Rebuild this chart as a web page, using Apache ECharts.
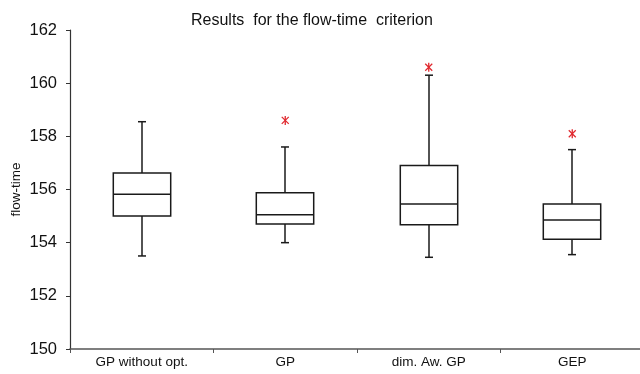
<!DOCTYPE html>
<html>
<head>
<meta charset="utf-8">
<script src="https://cdn.jsdelivr.net/npm/echarts@6/dist/echarts.min.js"></script>
<style>html,body{margin:0;padding:0;background:#fff}#c{width:640px;height:374px}</style>
</head>
<body>
<div id="c"></div>
<script>
const categories = ['GP without opt.', 'GP', 'dim. Aw. GP', 'GEP'];
const mins    = [153.5, 154.0, 153.45, 153.55];
const q1s     = [155.0, 154.7, 154.67, 154.13];
const medians = [155.82, 155.05, 155.45, 154.85];
const q3s     = [156.62, 155.88, 156.9, 155.45];
const maxs    = [158.55, 157.6, 160.3, 157.5];
const outliers = [[1, 158.6], [2, 160.6], [3, 158.1]];
const yTicks = [150, 152, 154, 156, 158, 160, 162];

const boxData = categories.map((c, i) => [i, mins[i], q1s[i], medians[i], q3s[i], maxs[i]]);
const FONT = 'Liberation Sans, Arial, sans-serif';
const lineStyle = {stroke: '#1a1a1a', lineWidth: 1.5, fill: null};

function renderBox(params, api) {
  const i = api.value(0);
  const pMin = api.coord([i, api.value(1)]);
  const pQ1 = api.coord([i, api.value(2)]);
  const pMed = api.coord([i, api.value(3)]);
  const pQ3 = api.coord([i, api.value(4)]);
  const pMax = api.coord([i, api.value(5)]);
  const bw = api.size([1, 0])[0] * 0.4;
  const cx = Math.round(pMed[0]);
  const hx = bw / 2, cap = 4;
  return {
    type: 'group',
    children: [
      {type: 'rect', shape: {x: cx - hx, y: pQ3[1], width: bw, height: pQ1[1] - pQ3[1]}, style: Object.assign({}, lineStyle, {fill: '#fff'})},
      {type: 'line', shape: {x1: cx - hx, y1: pMed[1], x2: cx + hx, y2: pMed[1]}, style: lineStyle},
      {type: 'line', shape: {x1: cx, y1: pQ3[1], x2: cx, y2: pMax[1]}, style: lineStyle},
      {type: 'line', shape: {x1: cx, y1: pQ1[1], x2: cx, y2: pMin[1]}, style: lineStyle},
      {type: 'line', shape: {x1: cx - cap, y1: pMax[1], x2: cx + cap, y2: pMax[1]}, style: lineStyle},
      {type: 'line', shape: {x1: cx - cap, y1: pMin[1], x2: cx + cap, y2: pMin[1]}, style: lineStyle}
    ]
  };
}

function renderStar(params, api) {
  const p = api.coord([api.value(0), api.value(1)]);
  const r = 3.5;
  const st = {stroke: '#e0282e', lineWidth: 1.3};
  return {
    type: 'group',
    children: [
      {type: 'line', shape: {x1: p[0] - r, y1: p[1] - r, x2: p[0] + r, y2: p[1] + r}, style: st},
      {type: 'line', shape: {x1: p[0] - r, y1: p[1] + r, x2: p[0] + r, y2: p[1] - r}, style: st},
      {type: 'line', shape: {x1: p[0], y1: p[1] - r - 1, x2: p[0], y2: p[1] + r + 1}, style: st}
    ]
  };
}

const chart = echarts.init(document.getElementById('c'), null, {renderer: 'canvas'});
chart.setOption({
  animation: false,
  backgroundColor: '#fff',
  title: {
    text: 'Results  for the flow-time  criterion',
    left: 186, top: 8,
    textStyle: {fontFamily: FONT, fontSize: 16, fontWeight: 'normal', color: '#111'}
  },
  grid: {left: 70, top: 30, width: 574, height: 319, outerBoundsMode: 'none', containLabel: false},
  xAxis: {
    type: 'category', data: categories, boundaryGap: true,
    axisLine: {lineStyle: {color: '#555', width: 1.6}},
    axisTick: {show: true, alignWithLabel: false, interval: 0, length: 4, lineStyle: {color: '#555'}},
    axisLabel: {interval: 0, fontFamily: FONT, fontSize: 13.5, color: '#111', margin: 6},
    splitLine: {show: false}
  },
  yAxis: {
    type: 'value', min: yTicks[0], max: yTicks[yTicks.length - 1], interval: 2,
    name: 'flow-time', nameLocation: 'middle', nameRotate: 90, nameGap: 47, nameMoveOverlap: false,
    nameTextStyle: {fontFamily: FONT, fontSize: 13.5, color: '#111'},
    axisLine: {show: true, lineStyle: {color: '#333', width: 1.2}},
    axisTick: {show: true, length: 4, lineStyle: {color: '#333'}},
    axisLabel: {fontFamily: FONT, fontSize: 16.5, color: '#111', margin: 13},
    splitLine: {show: false}
  },
  series: [
    {type: 'custom', renderItem: renderBox, data: boxData, encode: {x: 0, y: [1, 2, 3, 4, 5]}, z: 3, clip: false},
    {type: 'custom', renderItem: renderStar, data: outliers, encode: {x: 0, y: 1}, z: 4, clip: false}
  ]
});
</script>
</body>
</html>
